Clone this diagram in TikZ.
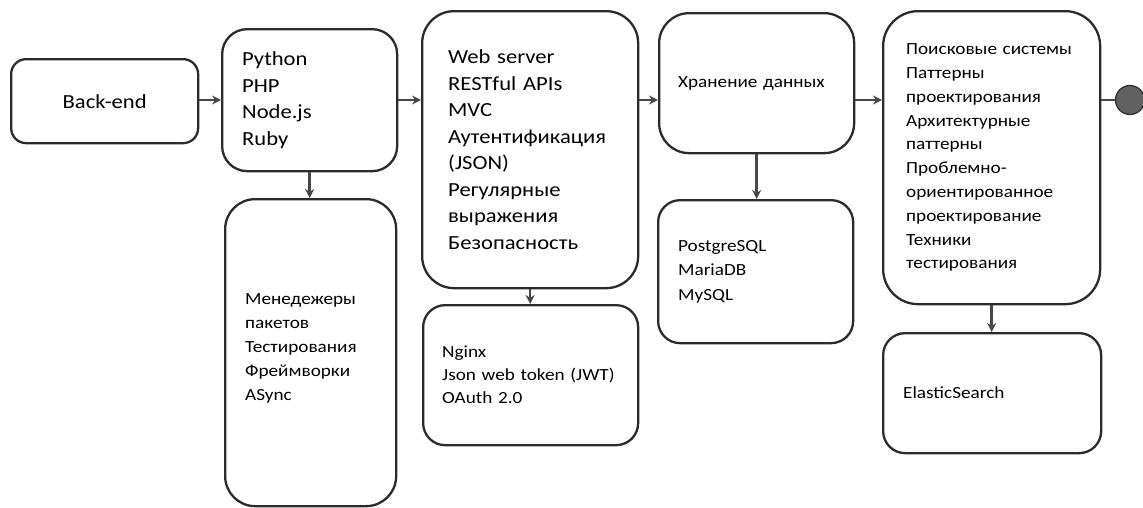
\documentclass[tikz,border=0pt]{standalone}
\usepackage{fontspec}
\setmainfont{Carlito}[FakeStretch=1.13]
\usetikzlibrary{arrows.meta}
\definecolor{edge}{HTML}{2B2B2B}
\definecolor{arr}{HTML}{474747}
\tikzset{
  box/.style={draw=edge, line width=2.3pt, anchor=north west, align=left, inner ysep=0pt},
  big/.style={font=\fontsize{20}{26.5}\selectfont},
  small/.style={font=\fontsize{17}{24}\selectfont},
  conn/.style={draw=arr, line width=2.4pt, -{Stealth[length=9pt,width=9pt]}},
  link/.style={draw=arr, line width=2.4pt},
  dot/.style={circle, draw=edge, line width=1.2pt, fill=black!62, minimum size=29pt, inner sep=0pt}
}
\begin{document}
\begin{tikzpicture}[x=1pt,y=-1pt]
\useasboundingbox (0,0) rectangle (1143,507);
\coordinate (row) at (0,100);
\node[box, big, rounded corners=15pt, minimum width=187pt, minimum height=84pt, align=center] (backend) at (10,58) {Back-end};
\node[box, big, rounded corners=25pt, minimum width=175pt, minimum height=142pt, text width=135pt, inner xsep=20pt] (lang) at (221,28) {Python\\PHP\\Node.js\\Ruby};
\node[box, big, rounded corners=32pt, minimum width=216pt, minimum height=277pt, text width=164pt, inner xsep=26pt] (web) at (421,10) {Web server\\RESTful APIs\\MVC\\Аутентификация\\(JSON)\\Регулярные\\выражения\\Безопасность};
\node[box, small, rounded corners=30pt, minimum width=195pt, minimum height=140pt, text width=157pt, inner xsep=19pt] (store) at (658,12) {Хранение данных};
\node[box, small, rounded corners=35pt, minimum width=217pt, minimum height=293pt, text width=171pt, inner xsep=23pt, font=\fontsize{17}{23.8}\selectfont] (search) at (882,10) {Поисковые системы\\Паттерны\\проектирования\\Архитектурные\\паттерны\\Проблемно-\\ориентированное\\проектирование\\Техники\\тестирования};
\node[box, small, rounded corners=30pt, minimum width=171pt, minimum height=307pt, text width=131pt, inner xsep=20pt] (mgr) at (224,198) {Менедежеры\\пакетов\\Тестирования\\Фреймворки\\ASync\\[-12pt]\mbox{}};
\node[box, small, rounded corners=22pt, minimum width=215pt, minimum height=140pt, text width=177pt, inner xsep=19pt, font=\fontsize{17}{23}\selectfont] (nginx) at (422,304) {Nginx\\Json web token (JWT)\\OAuth 2.0};
\node[box, small, rounded corners=22pt, minimum width=195pt, minimum height=143pt, text width=155pt, inner xsep=20pt, font=\fontsize{17}{24.5}\selectfont] (db) at (657,199) {PostgreSQL\\MariaDB\\MySQL};
\node[box, small, rounded corners=22pt, minimum width=218pt, minimum height=120pt, text width=178pt, inner xsep=20pt] (elastic) at (882,332) {ElasticSearch};
\node[dot] (end) at (1130,100) {};
\draw[conn] (backend.east |- row) -- (lang.west |- row);
\draw[conn] (lang.east |- row) -- (web.west |- row);
\draw[conn] (web.east |- row) -- (store.west |- row);
\draw[conn] (store.east |- row) -- (search.west |- row);
\draw[link] (search.east |- end) -- (end.west);
\draw[conn] (lang.south) -- (lang.south |- mgr.north);
\draw[conn] (web.south) -- (web.south |- nginx.north);
\draw[conn] (store.south) -- (store.south |- db.north);
\draw[conn] (search.south) -- (search.south |- elastic.north);
\end{tikzpicture}
\end{document}
